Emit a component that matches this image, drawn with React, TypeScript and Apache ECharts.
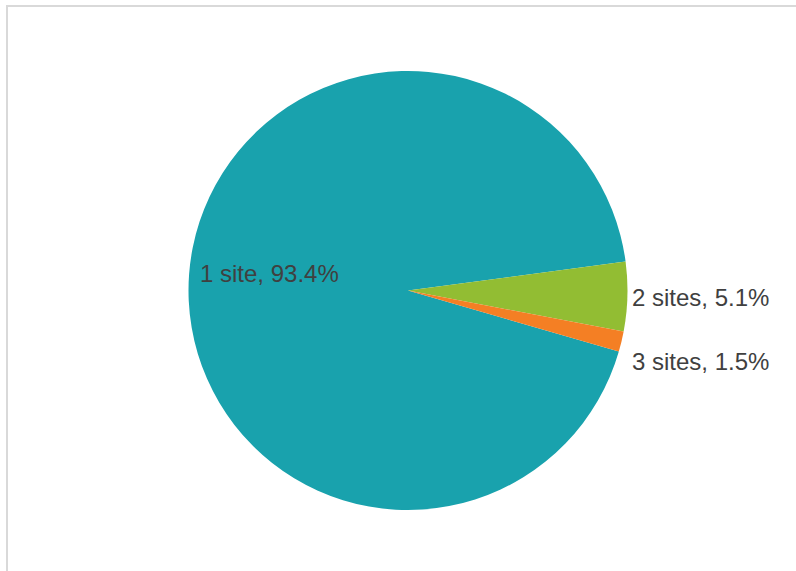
import React, { useEffect, useRef } from "react";
import * as echarts from "echarts";

const categories = ["1 site", "2 sites", "3 sites"];
const shares = [93.4, 5.1, 1.5];
const colors = ["#19A2AD", "#92BD33", "#F47F24"];

export default function App() {
  const ref = useRef<HTMLDivElement>(null);
  useEffect(() => {
    document.body.style.margin = "0";
    const chart = echarts.init(ref.current!, null, { renderer: "svg" });
    const labelPos = [
      { x: 200, y: 273 },
      { x: 632, y: 297 },
      { x: 632, y: 361 },
    ];
    chart.setOption({
      animation: false,
      backgroundColor: "transparent",
      color: colors,
      series: [
        {
          type: "pie",
          center: [408, 290.5],
          radius: 219.5,
          startAngle: 343.84,
          clockwise: true,
          percentPrecision: 1,
          silent: true,
          avoidLabelOverlap: false,
          data: categories.map((c, i) => ({ name: c, value: shares[i] })),
          itemStyle: { borderWidth: 0 },
          label: {
            show: true,
            position: "outside",
            formatter: "{b}, {d}%",
            fontFamily: "Liberation Sans, Arial, sans-serif",
            fontSize: 24,
            color: "#404040",
            overflow: "none",
            width: 300,
          },
          labelLine: { show: false },
          labelLayout: (p: any) => ({
            x: labelPos[p.dataIndex].x,
            y: labelPos[p.dataIndex].y,
            align: "left",
            verticalAlign: "middle",
          }),
        },
      ],
    });
    return () => chart.dispose();
  }, []);
  return (
    <div style={{ position: "relative", width: 796, height: 571, overflow: "hidden", background: "#fff" }}>
      <div
        style={{
          position: "absolute",
          left: 6,
          top: 5,
          width: 900,
          height: 700,
          border: "2px solid #d9d9d9",
          boxSizing: "border-box",
        }}
      />
      <div ref={ref} style={{ position: "absolute", left: 0, top: 0, width: 796, height: 571 }} />
    </div>
  );
}
